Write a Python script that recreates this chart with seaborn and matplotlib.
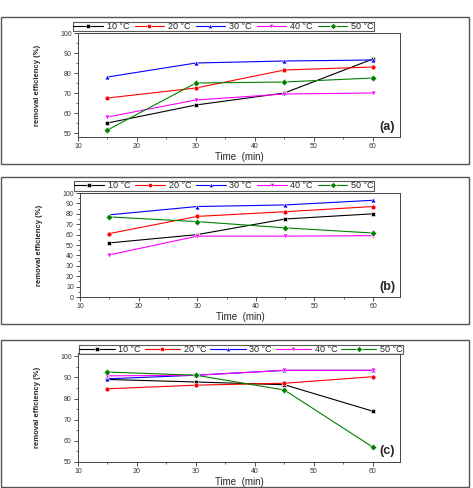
import matplotlib
matplotlib.use("Agg")
import numpy as np
import pandas as pd
import matplotlib.pyplot as plt
import seaborn as sns
from matplotlib.patches import Rectangle
from matplotlib.ticker import MultipleLocator

# === Data
times = [15, 30, 45, 60]
temps = ["10 °C", "20 °C", "30 °C", "40 °C", "50 °C"]

eff_a = {
    "10 °C": [55, 64, 70, 87],
    "20 °C": [67.5, 72.5, 81.5, 83],
    "30 °C": [78, 85, 86, 86.5],
    "40 °C": [58, 66.5, 69.5, 70],
    "50 °C": [51.5, 75, 75.5, 77.5],
}
eff_b = {
    "10 °C": [52, 60, 75, 80],
    "20 °C": [61, 77.5, 82, 87],
    "30 °C": [79, 87, 88.5, 93],
    "40 °C": [40.5, 58.5, 58.5, 59],
    "50 °C": [77, 72.5, 66.5, 61.5],
}
eff_c = {
    "10 °C": [89, 87.8, 86.5, 74],
    "20 °C": [84.6, 86.3, 87.2, 90.3],
    "30 °C": [89.3, 91, 93.3, 93.3],
    "40 °C": [90.7, 91, 93.3, 93.3],
    "50 °C": [92.5, 91, 84, 57],
}

colors = ["black", "red", "blue", "magenta", "green"]
markers = ["s", "o", "^", "v", "D"]

sns.set_style("ticks")
plt.rcParams["font.family"] = ["Liberation Sans", "DejaVu Sans"]

fig = plt.figure(figsize=(4.73, 4.88), dpi=100)
W, H = 473, 488

def fx(px):
    return px / W

def fy(py):
    return 1 - py / H

# === Panel frames
for top, bot in [(17, 164), (177, 324), (340, 487)]:
    fig.patches.append(Rectangle((fx(1), fy(bot)), fx(468), (bot - top) / H,
                                 transform=fig.transFigure, fill=False,
                                 edgecolor="#555555", linewidth=1.0))

panels = [
    # data, axes px (left, top, right, bottom), ylim, label,
    # legend px (left, right, top, bottom), handle length
    (eff_a, (78, 33, 400, 137), (48, 100), "(a)", (73, 374, 22, 31), 3.3),
    (eff_b, (80, 193, 400, 297), (0, 100), "(b)", (74, 374, 182, 190), 3.3),
    (eff_c, (78, 353, 400, 462), (50, 101.5), "(c)", (79, 403, 345, 354), 3.9),
]

for data, (l, t, r, b), ylim, lab, (ll, lr, lt, lb), hl in panels:
    ax = fig.add_axes([fx(l), fy(b), (r - l) / W, (b - t) / H])
    df = pd.DataFrame([(tm, temp, v) for temp in temps
                       for tm, v in zip(times, data[temp])],
                      columns=["Time", "Temp", "Eff"])
    sns.lineplot(data=df, x="Time", y="Eff", hue="Temp", style="Temp",
                 hue_order=temps, style_order=temps, palette=colors,
                 markers=markers, dashes=False, markersize=3.5,
                 markeredgewidth=0.4, linewidth=0.8, ax=ax)
    ax.set_xlim(10, 64.6)
    ax.set_ylim(*ylim)
    ax.xaxis.set_major_locator(MultipleLocator(10))
    ax.xaxis.set_minor_locator(MultipleLocator(5))
    ax.yaxis.set_major_locator(MultipleLocator(10))
    ax.yaxis.set_minor_locator(MultipleLocator(5))
    ax.tick_params(axis="both", which="major", labelsize=5, length=3,
                   width=0.6, pad=1.5, colors="#333333")
    ax.tick_params(axis="both", which="minor", length=1.5, width=0.5)
    for s in ax.spines.values():
        s.set_linewidth(0.7)
        s.set_color("#444444")
    ax.set_xlabel("Time  (min)", fontsize=7, labelpad=1)
    ax.set_ylabel("removal efficiency (%)", fontsize=5.5, fontweight="bold",
                  labelpad=14)
    ax.text(0.985, 0.1, lab, transform=ax.transAxes, ha="right", va="center",
            fontsize=9, fontweight="bold")
    leg = ax.legend(loc="center", ncol=5, fontsize=6.5, mode="expand",
                    bbox_to_anchor=(fx(ll), fy(lb), (lr - ll) / W, (lb - lt) / H),
                    bbox_transform=fig.transFigure, frameon=True, fancybox=False,
                    handlelength=hl, handletextpad=0.4, columnspacing=0.2,
                    borderpad=0.05, borderaxespad=0, markerscale=0.9)
    leg.get_frame().set_edgecolor("#333333")
    leg.get_frame().set_linewidth(0.8)

fig.savefig("out.png", dpi=100)
